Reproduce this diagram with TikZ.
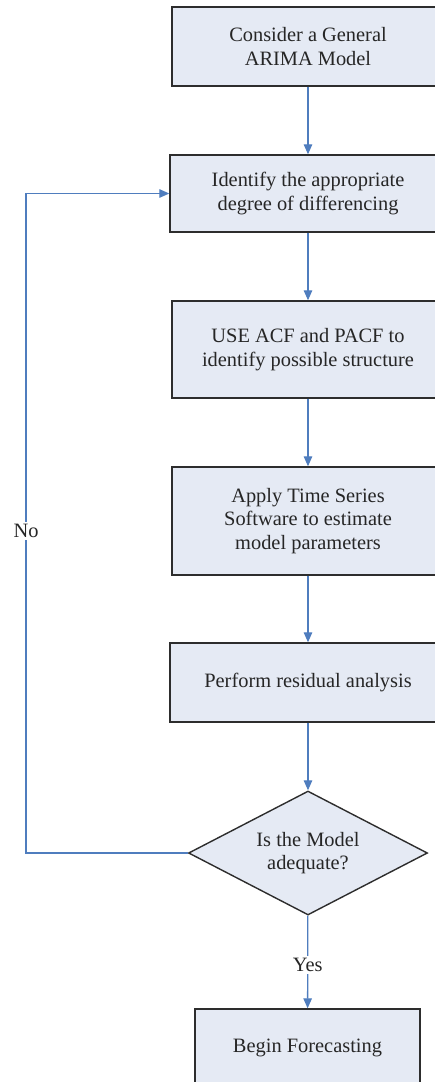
\documentclass[tikz,border=0pt]{standalone}
\usepackage{fontspec}
\setmainfont{Liberation Serif}
\usetikzlibrary{shapes.geometric, arrows.meta}
\definecolor{boxfill}{RGB}{229,234,244}
\definecolor{flowblue}{RGB}{79,125,190}
\definecolor{edgegray}{RGB}{45,45,45}

\begin{document}
\begin{tikzpicture}[x=1pt, y=-1pt,
    every node/.style={font=\fontsize{20.4}{23.5}\selectfont, text=black!85},
    box/.style={draw=edgegray, line width=1.4pt, fill=boxfill, align=center, inner sep=0pt},
    decision/.style={diamond, draw=edgegray, line width=1.4pt, fill=boxfill, align=center, inner sep=0pt, aspect=1.93},
    flow/.style={draw=flowblue, line width=1.3pt, -{Triangle[length=10pt, width=8.5pt]}}]
                \useasboundingbox (0,0) rectangle (435,1082);

                \node[box, minimum width=272pt, minimum height=79pt] (general) at (308,46.5) {Consider a General\\ARIMA Model};
                \node[box, minimum width=276pt, minimum height=77pt] (ident) at (308,193.5) {Identify the appropriate\\degree of differencing};
                \node[box, minimum width=272pt, minimum height=97pt] (acf) at (308,349.5) {USE ACF and PACF to\\identify possible structure};
                \node[box, minimum width=272pt, minimum height=108pt] (estim) at (308,521) {Apply Time Series\\Software to estimate\\model parameters};
                \node[box, minimum width=276pt, minimum height=79pt] (resid) at (308,682.5) {Perform residual analysis};
                \node[decision, minimum width=239pt, minimum height=124pt] (adequate) at (308,853) {Is the Model\\adequate?};
                \node[box, minimum width=225pt, minimum height=80pt, text depth=0pt] (forecast) at (307.5,1049) {\raisebox{6pt}{Begin Forecasting}};

                \draw[flow] (general) -- (ident);
                \draw[flow] (ident) -- (acf);
                \draw[flow] (acf) -- (estim);
                \draw[flow] (estim) -- (resid);
                \draw[flow] (resid) -- (adequate);
                \draw[flow] (adequate) -- (forecast) node[pos=0.53, fill=white, inner sep=2pt] (yes) {Yes};

                \coordinate (back) at (26,853);
                \draw[flow] (adequate.west) -- (back) |- (ident.west) node[pos=0.244, fill=white, inner sep=2pt] (no) {No};
            \end{tikzpicture}
\end{document}
